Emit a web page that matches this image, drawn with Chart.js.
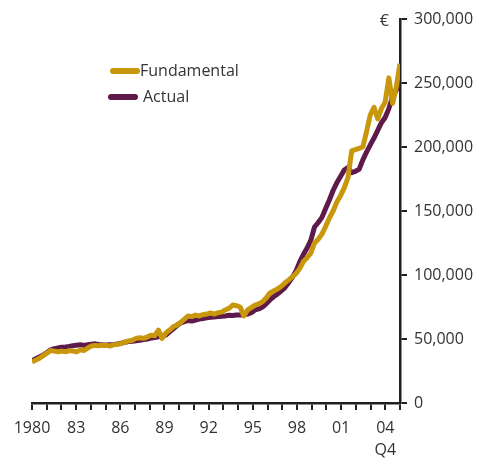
<!DOCTYPE html>
<html>
<head>
<meta charset="utf-8">
<script src="https://cdn.jsdelivr.net/npm/chart.js@4.4.1/dist/chart.umd.min.js"></script>
<style>
  html, body { margin: 0; padding: 0; background: #ffffff; }
  #wrap { width: 496px; height: 459px; position: relative; }
</style>
</head>
<body>
<div id="wrap"><canvas id="c" width="496" height="459"></canvas></div>
<script>
// Quarterly observations 1980Q1 .. 2004Q4 (thousands of euro)
const startYear = 1980;
const endYear = 2005;
const xTickLabels = {1980: '1980', 1983: '83', 1986: '86', 1989: '89', 1992: '92', 1995: '95', 1998: '98', 2001: '01', 2004: ['04', 'Q4']};
const yTicks = [0, 50000, 100000, 150000, 200000, 250000, 300000];

const fundamental = [
  32.0, 33.5, 35.0, 37.0,
  39.0, 41.0, 40.5, 40.0,
  40.5, 40.0, 41.0, 40.5,
  40.0, 41.5, 41.0, 43.0,
  44.5, 45.0, 44.8, 45.2,
  45.0, 44.5, 45.5, 45.8,
  46.5, 47.5, 48.5, 49.0,
  50.5, 51.0, 50.5, 51.5,
  53.0, 52.5, 57.0, 50.5,
  54.7, 57.0, 59.5, 61.0,
  63.0, 65.5, 68.0, 67.5,
  68.7, 68.0, 69.0, 69.5,
  70.3, 69.5, 70.5, 71.0,
  72.7, 74.0, 76.5, 76.0,
  75.0, 68.0, 72.7, 74.5,
  76.5, 77.5, 79.0, 82.0,
  86.0, 87.5, 89.0, 91.0,
  93.7, 96.0, 98.5, 101.0,
  105.0, 110.5, 113.5, 117.0,
  125.0, 128.0, 132.0, 138.0,
  144.5, 150.0, 157.0, 162.0,
  168.0, 176.0, 197.0, 198.0,
  199.0, 200.0, 212.0, 225.0,
  231.0, 222.0, 230.0, 235.0,
  254.0, 234.0, 247.0, 265.0
];

const actual = [
  33.0, 34.5, 36.0, 37.5,
  39.5, 41.5, 42.5, 43.0,
  43.5, 43.8, 44.2, 44.8,
  45.2, 45.5, 45.0, 45.6,
  46.0, 46.2, 45.8, 45.5,
  45.3, 45.6, 45.8, 46.2,
  46.8, 47.5, 48.0, 48.3,
  48.7, 49.0, 49.5, 50.0,
  50.8, 51.2, 51.8, 52.3,
  53.0, 55.5, 58.0, 60.5,
  62.5, 63.5, 64.5, 64.0,
  64.8, 65.5, 66.0, 66.5,
  67.0, 67.2, 67.5, 67.8,
  68.0, 68.5, 68.3, 68.8,
  68.7, 69.0, 69.5, 70.5,
  72.7, 73.5, 75.0, 77.5,
  80.5, 83.0, 85.0, 87.5,
  90.0, 94.0, 98.0, 103.0,
  110.0, 116.0, 121.0, 127.0,
  137.5, 141.0, 145.0, 152.0,
  158.6, 166.0, 172.0, 177.0,
  182.0, 184.0, 180.0, 181.0,
  182.5, 190.0, 196.0, 201.6,
  207.0, 213.0, 219.0, 223.0,
  230.0, 239.0, 244.5, 250.5
];

const GOLD = '#c8970c';
const PURPLE = '#5e1a4a';
const INK = '#231f20';
const TEXT = '#333333';
const FONT = '"Open Sans", Lato, sans-serif';

const n = fundamental.length;
const span = endYear - startYear;
function toPoints(arr) {
  return arr.map((v, i) => ({ x: startYear + i * span / (n - 1), y: v * 1000 }));
}

const overlay = {
  id: 'overlay',
  afterDraw(chart) {
    const ctx = chart.ctx;
    const area = chart.chartArea;
    ctx.save();
    // currency unit
    ctx.fillStyle = TEXT;
    ctx.font = '16px ' + FONT;
    ctx.textAlign = 'right';
    ctx.textBaseline = 'middle';
    ctx.fillText('€', area.right - 11, area.top + 2);
    // legend
    const items = chart.data.datasets;
    const ys = [71, 97];
    items.forEach((ds, k) => {
      const y = ys[k];
      ctx.strokeStyle = ds.borderColor;
      ctx.lineWidth = 6;
      ctx.lineCap = 'round';
      ctx.beginPath();
      ctx.moveTo(113 - (k ? 2 : 0), y);
      ctx.lineTo(137 - (k ? 2 : 0), y);
      ctx.stroke();
      ctx.fillStyle = TEXT;
      ctx.textAlign = 'left';
      ctx.textBaseline = 'middle';
      ctx.font = '16px ' + FONT;
      ctx.fillText(ds.label, k ? 143 : 140, y);
    });
    ctx.restore();
  }
};

new Chart(document.getElementById('c'), {
  type: 'line',
  data: {
    datasets: [
      { label: 'Fundamental', data: toPoints(fundamental), borderColor: GOLD, backgroundColor: GOLD,
        borderWidth: 5, pointRadius: 0, tension: 0, borderJoinStyle: 'round', borderCapStyle: 'butt' },
      { label: 'Actual', data: toPoints(actual), borderColor: PURPLE, backgroundColor: PURPLE,
        borderWidth: 5, pointRadius: 0, tension: 0, borderJoinStyle: 'round', borderCapStyle: 'butt' }
    ]
  },
  options: {
    responsive: false,
    animation: false,
    events: [],
    layout: { padding: { left: 32, top: 19, right: 0, bottom: 0 } },
    plugins: { legend: { display: false }, tooltip: { enabled: false } },
    scales: {
      x: {
        type: 'linear',
        min: startYear,
        max: endYear,
        afterBuildTicks(scale) {
          const t = [];
          for (let y = startYear; y <= endYear; y++) t.push({ value: y });
          scale.ticks = t;
        },
        afterFit(scale) { scale.height = 56; },
        ticks: {
          autoSkip: false,
          maxRotation: 0,
          color: TEXT,
          font: { family: FONT, size: 16, lineHeight: 1.35 },
          padding: 8,
          callback: (v) => xTickLabels[v] !== undefined ? xTickLabels[v] : ''
        },
        grid: { drawOnChartArea: false, drawTicks: true, tickLength: 7, color: INK, lineWidth: 2 },
        border: { display: true, color: INK, width: 2.5 }
      },
      y: {
        position: 'right',
        min: 0,
        max: 300000,
        afterBuildTicks(scale) { scale.ticks = yTicks.map(v => ({ value: v })); },
        afterFit(scale) { scale.width = 96; },
        ticks: {
          color: TEXT,
          font: { family: FONT, size: 16 },
          padding: 7,
          callback: (v) => v.toLocaleString('en-US')
        },
        grid: { drawOnChartArea: false, drawTicks: true, tickLength: 7, color: INK, lineWidth: 2 },
        border: { display: true, color: INK, width: 2.5 }
      }
    }
  },
  plugins: [overlay]
});
</script>
</body>
</html>
